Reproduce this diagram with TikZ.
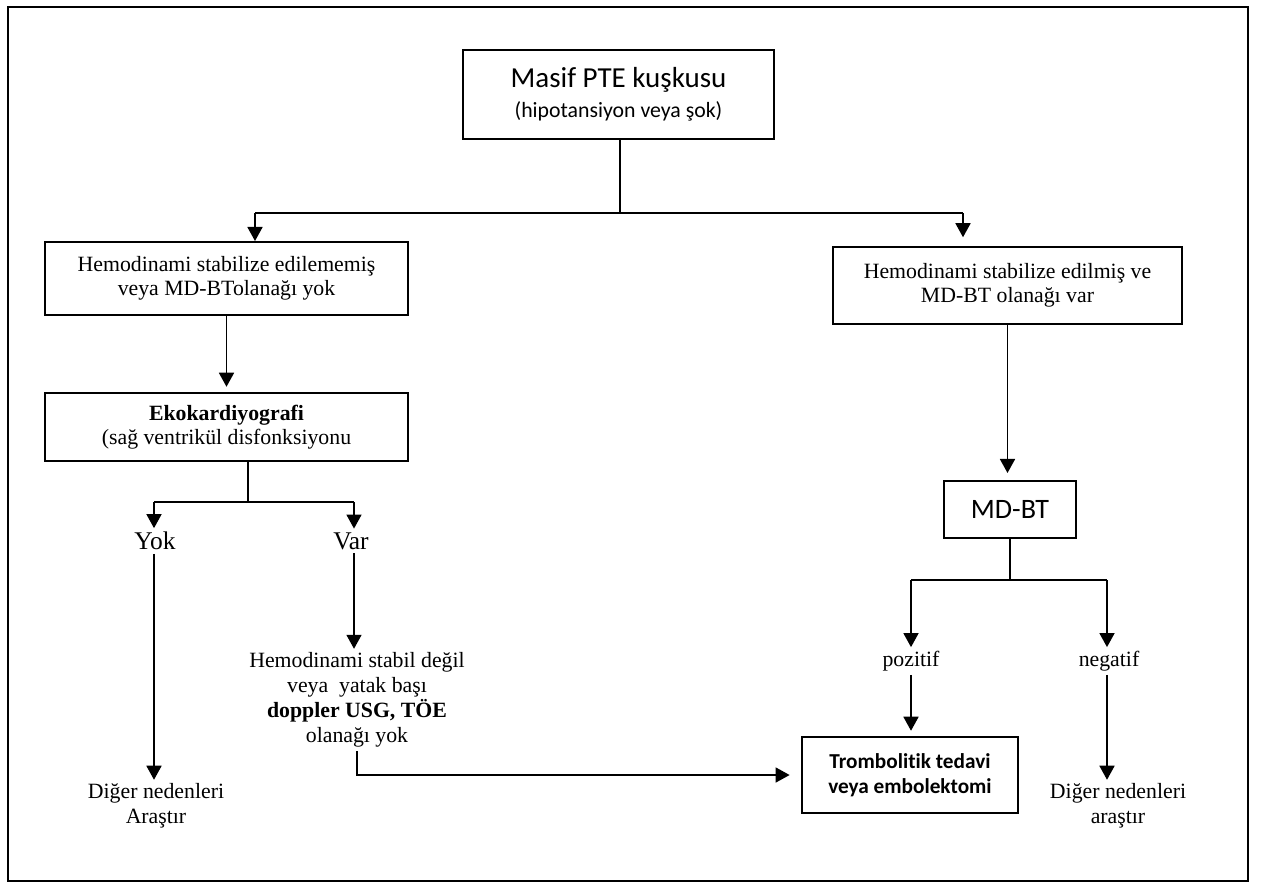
\documentclass[tikz,border=0pt]{standalone}
\usepackage{fontspec}
\setmainfont{Liberation Serif}
\newfontfamily\calibri[Ligatures=NoCommon]{Carlito}
\usetikzlibrary{arrows.meta, positioning}

\begin{document}
\begin{tikzpicture}[x=0.02cm, y=-0.02cm, >={Triangle[width=8.5pt, length=8pt]},
    box/.style={draw, line width=1.1pt, align=center, inner sep=0pt,
        font=\fontsize{12.4}{13.6}\selectfont},
    label/.style={align=center, inner sep=2pt, font=\fontsize{12.4}{14.2}\selectfont},
    choice/.style={inner sep=2pt, font=\fontsize{14.5}{16}\selectfont},
    link/.style={line width=1.1pt}]
    \useasboundingbox (0,0) rectangle (1267,893);

    % Outer frame
    \draw[line width=1.6pt] (8,7) rectangle (1248,881);

    % Boxes
    \node[box, minimum width=6.22cm, minimum height=1.78cm,
        font=\calibri\fontsize{16.5}{17}\selectfont] (Suspect) at (618.5,94.5)
        {Masif PTE kuşkusu\\{\fontsize{12.4}{14}\selectfont (hipotansiyon veya şok)}};
    \node[box, minimum width=7.26cm, minimum height=1.46cm] (Unstable) at (226.5,278.5)
        {Hemodinami stabilize edilememiş\\veya MD-BTolanağı yok};
    \node[box, minimum width=7.26cm, minimum height=1.36cm] (Echo) at (226.5,427)
        {\textbf{Ekokardiyografi}\\(sağ ventrikül disfonksiyonu};
    \node[box, minimum width=6.98cm, minimum height=1.54cm] (Stable) at (1007.5,285.5)
        {Hemodinami stabilize edilmiş ve\\MD-BT olanağı var};
    \node[box, minimum width=2.64cm, minimum height=1.14cm,
        font=\calibri\fontsize{16}{18}\selectfont] (MDBT) at (1010,509.5) {MD-BT};
    \node[box, minimum width=4.32cm, minimum height=1.52cm,
        font=\calibri\bfseries\fontsize{12.1}{14.2}\selectfont] (Thrombo) at (910,775)
        {Trombolitik tedavi\\veya embolektomi};

    % Plain labels
    \node[choice] (Yok) at (155,541) {Yok};
    \node[choice] (Var) at (351,541) {Var};
    \node[label] (OtherLeft) at (156,806) {Diğer nedenleri\\Araştır};
    \node[label] (VarNote) at (357,700)
        {Hemodinami stabil değil\\veya\ \ yatak başı\\\textbf{doppler USG, TÖE}\\olanağı yok};
    \node[label] (Pos) at (911,661) {pozitif};
    \node[label] (Neg) at (1109,661) {negatif};
    \node[label] (OtherRight) at (1118,806) {Diğer nedenleri\\araştır};

    % Junction points
    \coordinate (SplitTop) at (620,213);
    \coordinate (SplitLeft) at (255,213);
    \coordinate (SplitRight) at (963,213);
    \coordinate (EchoSplit) at (248,502);
    \coordinate (EchoLeft) at (154,502);
    \coordinate (EchoRight) at (354,502);
    \coordinate (MDSplit) at (1010,580);
    \coordinate (MDLeft) at (911,580);
    \coordinate (MDRight) at (1107,580);

    % First split
    \draw[link] (Suspect.south -| SplitTop) -- (SplitTop);
    \draw[link] (SplitLeft) -- (SplitRight);
    \draw[link, ->] (SplitLeft) -- (SplitLeft |- Unstable.north);
    \draw[link, ->, shorten >=5pt] (SplitRight) -- (SplitRight |- Stable.north);

    % Left branch
    \draw[link, ->, shorten >=3pt] (Unstable) -- (Echo);
    \draw[link] (Echo.south -| EchoSplit) -- (EchoSplit);
    \draw[link] (EchoLeft) -- (EchoRight);
    \draw[link, ->] (EchoLeft) -- (EchoLeft |- Yok.north);
    \draw[link, ->] (EchoRight) -- (EchoRight |- Var.north);
    \draw[link, ->] (Yok.south -| EchoLeft) -- (EchoLeft |- OtherLeft.north);
    \draw[link, ->] (Var.south -| EchoRight) -- (EchoRight |- VarNote.north);
    \draw[link, ->, shorten >=6.5pt] (VarNote.south) |- (Thrombo.west);

    % Right branch
    \draw[link, ->, shorten >=4pt] (Stable.south) -- (Stable.south |- MDBT.north);
    \draw[link] (MDBT.south -| MDSplit) -- (MDSplit);
    \draw[link] (MDLeft) -- (MDRight);
    \draw[link, ->] (MDLeft) -- (MDLeft |- Pos.north);
    \draw[link, ->] (MDRight) -- (MDRight |- Neg.north);
    \draw[link, ->, shorten >=3pt] (Pos.south -| MDLeft) -- (MDLeft |- Thrombo.north);
    \draw[link, ->] (Neg.south -| MDRight) -- (MDRight |- OtherRight.north);

\end{tikzpicture}
\end{document}
